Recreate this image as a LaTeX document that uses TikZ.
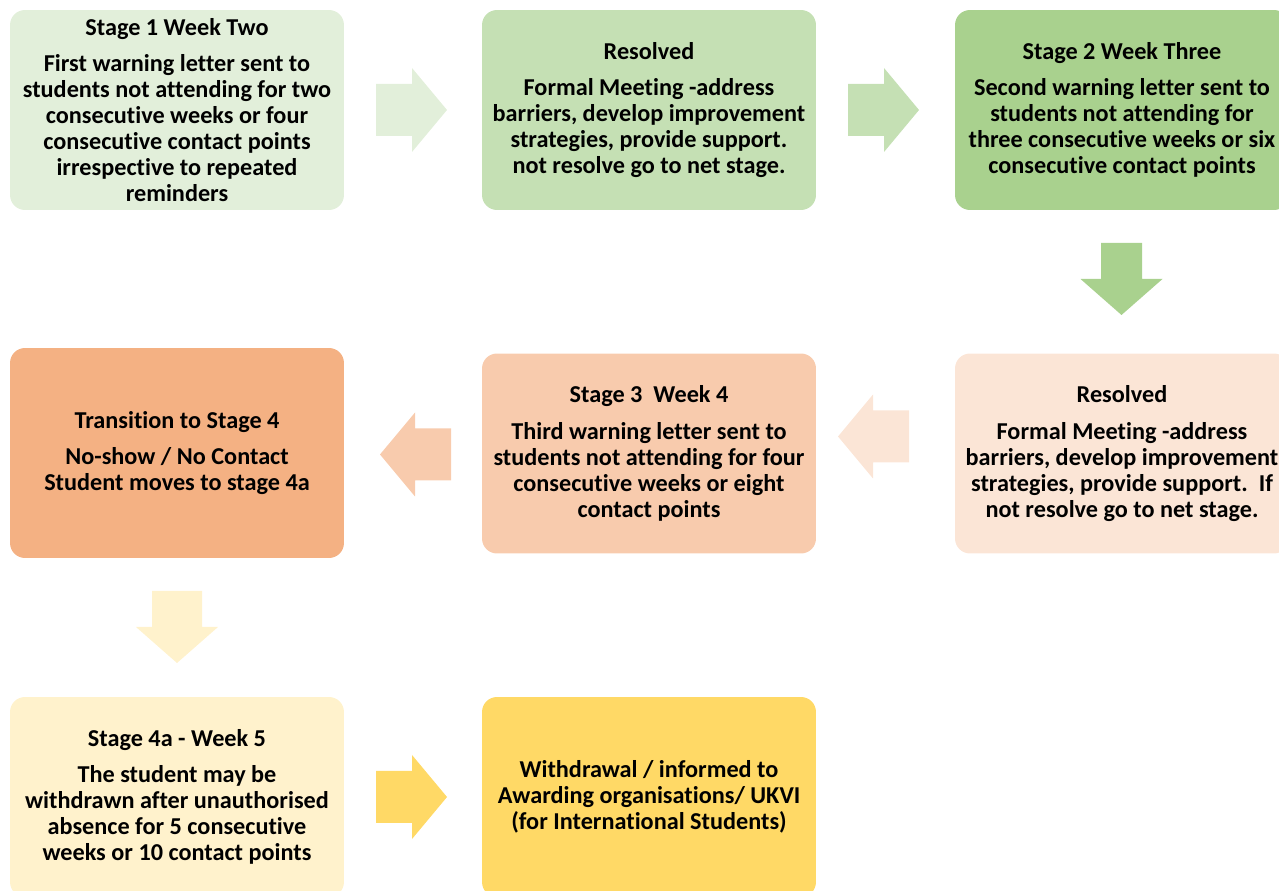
\documentclass[tikz,border=0pt]{standalone}
\usepackage{fontspec}
\setmainfont{Carlito}[Ligatures=NoCommon]
\usetikzlibrary{calc}

\definecolor{greenA}{HTML}{E2EFDA}
\definecolor{greenB}{HTML}{C5E0B4}
\definecolor{greenC}{HTML}{A9D18E}
\definecolor{orangeA}{HTML}{FBE5D6}
\definecolor{orangeB}{HTML}{F8CBAD}
\definecolor{orangeC}{HTML}{F4B183}
\definecolor{yellowA}{HTML}{FFF2CC}
\definecolor{yellowB}{HTML}{FFD966}

\tikzset{
  stage/.style={rectangle, rounded corners=8.5pt, minimum width=6.68cm,
    minimum height=4cm, align=center, inner sep=2pt,
    font=\bfseries\fontsize{13.8}{14.8}\selectfont},
}

% block arrows, (#1) = where the head starts
\newcommand{\rightblock}[2]{\fill[#2] ($(#1)+(-36,-26)$) -- ($(#1)+(0,-26)$)
  -- ($(#1)+(0,-42)$) -- ($(#1)+(35,0)$) -- ($(#1)+(0,42)$)
  -- ($(#1)+(0,26)$) -- ($(#1)+(-36,26)$) -- cycle;}
\newcommand{\leftblock}[2]{\fill[#2] ($(#1)+(36,-26)$) -- ($(#1)+(0,-26)$)
  -- ($(#1)+(0,-42)$) -- ($(#1)+(-35,0)$) -- ($(#1)+(0,42)$)
  -- ($(#1)+(0,26)$) -- ($(#1)+(36,26)$) -- cycle;}
\newcommand{\downblock}[3]{\fill[#2] ($(#1)+(-#3,-36)$) -- ($(#1)+(#3,-36)$)
  -- ($(#1)+(#3,0)$) -- ($(#1)+(41,0)$) -- ($(#1)+(0,36)$)
  -- ($(#1)+(-41,0)$) -- ($(#1)+(-#3,0)$) -- cycle;}

\begin{document}
\begin{tikzpicture}[x=0.02cm, y=-0.02cm]
    \useasboundingbox (0, 0) rectangle (1279, 891);

    \node[stage, fill=greenA] (week2) at (177, 110)
      {Stage 1 Week Two\\[6pt]
       First warning letter sent to\\students not attending for two\\
       consecutive weeks or four\\consecutive contact points\\
       irrespective to repeated\\reminders};
    \node[stage, fill=greenB] (res1) at (649, 110)
      {Resolved\\[6pt]
       Formal Meeting -address\\barriers, develop improvement\\
       strategies, provide support.\\not resolve go to net stage.};
    \node[stage, fill=greenC] (week3) at (1122, 110)
      {Stage 2 Week Three\\[6pt]
       Second warning letter sent to\\students not attending for\\
       three consecutive weeks or six\\consecutive contact points};
    \node[stage, fill=orangeA] (res2) at (1122, 453.5)
      {Resolved\\[6pt]
       Formal Meeting -address\\barriers, develop improvement\\
       strategies, provide support.\ \ If\\not resolve go to net stage.};
    \node[stage, fill=orangeB] (week4) at (649, 453.5)
      {Stage 3\ \ Week 4\\[6pt]
       Third warning letter sent to\\students not attending for four\\
       consecutive weeks or eight\\contact points};
    \node[stage, fill=orangeC, minimum height=4.2cm] (trans) at (177, 453)
      {Transition to Stage 4\\[6pt]
       No-show / No Contact\\Student moves to stage 4a};
    \node[stage, fill=yellowA] (week5) at (177, 797)
      {Stage 4a - Week 5\\[6pt]
       The student may be\\withdrawn after unauthorised\\
       absence for 5 consecutive\\weeks or 10 contact points};
    \node[stage, fill=yellowB] (withdraw) at (649, 797)
      {Withdrawal / informed to\\Awarding organisations/ UKVI\\
       (for International Students)};

    \coordinate (a12) at (412, 110);
    \coordinate (a23) at (884, 110);
    \coordinate (a34) at (1121.5, 279);
    \coordinate (a45) at (873, 436.5);
    \coordinate (a56) at (415, 454.5);
    \coordinate (a67) at (177, 627);
    \coordinate (a78) at (412, 797);

    \rightblock{a12}{greenA}
    \rightblock{a23}{greenB}
    \downblock{a34}{greenC}{20.5}
    \leftblock{a45}{orangeA}
    \leftblock{a56}{orangeB}
    \downblock{a67}{yellowA}{25}
    \rightblock{a78}{yellowB}
\end{tikzpicture}
\end{document}
